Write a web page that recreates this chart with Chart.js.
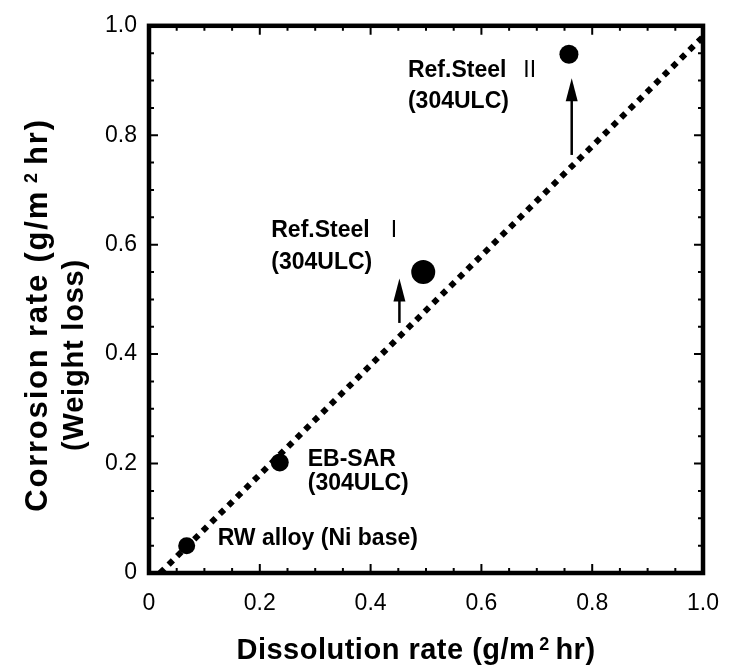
<!DOCTYPE html>
<html><head><meta charset="utf-8">
<script src="https://cdn.jsdelivr.net/npm/chart.js@4.4.1/dist/chart.umd.min.js"></script>
<style>html,body{margin:0;padding:0;background:#fff}#wrap{width:736px;height:672px}</style>
</head><body><div id="wrap"><canvas id="c" width="736" height="672"></canvas></div>
<script>
// ---- data ----
const sampleNames = ['RW alloy (Ni base)', 'EB-SAR', 'Ref.Steel', 'Ref.Steel'];
const sampleNumerals = ['', '', 'I', 'II'];
const sampleSubtitles = ['', '(304ULC)', '(304ULC)', '(304ULC)'];
const dissolutionRate = [0.068, 0.236, 0.495, 0.758];
const corrosionRate = [0.050, 0.202, 0.550, 0.948];
const arrowX = [0.452, 0.763];
const arrowFrom = [0.457, 0.764];
const arrowTo = [0.538, 0.904];
const trendX = [0.02, 1.0];
const trendY = [0.0, 0.98];
const tickValues = [0, 0.2, 0.4, 0.6, 0.8, 1.0];
const tickLabels = ['0', '0.2', '0.4', '0.6', '0.8', '1.0'];

const FONT = "'Liberation Sans', Arial, Helvetica, sans-serif";

// label placement relative to each marker (pixels)
const labelStyle = [
  {dx: 31, dy1: -9, dy2: 0, numGap: 0},
  {dx: 28, dy1: -5, dy2: 19, numGap: 0},
  {dx: -152, dy1: -43, dy2: -11, numGap: 21},
  {dx: -161, dy1: 15, dy2: 46, numGap: 17}
];

function drawRich(ctx, segs, x, y, align) {
  let total = 0;
  segs.forEach(s => {
    ctx.font = s.font; ctx.letterSpacing = (s.ls || 0) + 'px';
    s.w = ctx.measureText(s.text).width; total += s.w + (s.gap || 0);
  });
  let cx = align === 'center' ? x - total / 2 : x;
  segs.forEach(s => {
    ctx.font = s.font; ctx.letterSpacing = (s.ls || 0) + 'px';
    cx += (s.gap || 0);
    ctx.fillText(s.text, cx, y + (s.dy || 0));
    cx += s.w;
  });
  ctx.letterSpacing = '0px';
  return total;
}

const framePlugin = {
  id: 'frame',
  afterDatasetsDraw(chart) {
    const ctx = chart.ctx, xs = chart.scales.x, ys = chart.scales.y;
    const a = chart.chartArea;
    ctx.save();
    // arrows
    ctx.strokeStyle = '#000'; ctx.fillStyle = '#000'; ctx.lineWidth = 2.5;
    arrowX.forEach((ax, i) => {
      const px = xs.getPixelForValue(ax);
      const y0 = ys.getPixelForValue(arrowFrom[i]);
      const y1 = ys.getPixelForValue(arrowTo[i]);
      ctx.beginPath(); ctx.moveTo(px, y0); ctx.lineTo(px, y1 + 18); ctx.stroke();
      ctx.beginPath(); ctx.moveTo(px, y1); ctx.lineTo(px - 6, y1 + 23); ctx.lineTo(px + 6, y1 + 23); ctx.closePath(); ctx.fill();
    });
    // labels
    ctx.textBaseline = 'alphabetic'; ctx.textAlign = 'left';
    sampleNames.forEach((nm, i) => {
      const px = xs.getPixelForValue(dissolutionRate[i]);
      const py = ys.getPixelForValue(corrosionRate[i]);
      const st = labelStyle[i];
      const segs = [{text: nm, font: 'bold 23px ' + FONT, ls: 0}];
      if (sampleNumerals[i]) segs.push({text: sampleNumerals[i], font: '23px ' + FONT, ls: 0, gap: st.numGap});
      drawRich(ctx, segs, px + st.dx, py + st.dy1 + 8.2, 'left');
      if (sampleSubtitles[i]) drawRich(ctx, [{text: sampleSubtitles[i], font: 'bold 23px ' + FONT, ls: 0}], px + st.dx, py + st.dy2 + 8.2, 'left');
    });
    // frame
    ctx.lineWidth = 4.5; ctx.strokeStyle = '#000';
    ctx.strokeRect(a.left, a.top, a.right - a.left, a.bottom - a.top);
    // inward ticks
    ctx.lineWidth = 2;
    for (let k = 0; k <= 20; k++) {
      const v = k * 0.05;
      const len = (k % 4 === 0) ? 9 : 5;
      const px = xs.getPixelForValue(v), py = ys.getPixelForValue(v);
      ctx.beginPath();
      ctx.moveTo(px, a.bottom); ctx.lineTo(px, a.bottom - len);
      ctx.moveTo(px, a.top); ctx.lineTo(px, a.top + len);
      ctx.moveTo(a.left, py); ctx.lineTo(a.left + len, py);
      ctx.moveTo(a.right, py); ctx.lineTo(a.right - len, py);
      ctx.stroke();
    }
    // axis titles
    ctx.fillStyle = '#000';
    drawRich(ctx, [
      {text: 'Dissolution rate (g/m', font: 'bold 29px ' + FONT, ls: 0.5},
      {text: '2', font: 'bold 18px ' + FONT, gap: 4, dy: -9},
      {text: 'hr)', font: 'bold 29px ' + FONT, ls: 0.5, gap: 6}
    ], 416, 659, 'center');
    ctx.save();
    ctx.translate(47, 315); ctx.rotate(-Math.PI / 2);
    drawRich(ctx, [
      {text: 'Corrosion rate (g/m', font: 'bold 31px ' + FONT, ls: 1.8},
      {text: '2', font: 'bold 18px ' + FONT, gap: 7, dy: -10},
      {text: 'hr)', font: 'bold 31px ' + FONT, ls: 1.8, gap: 8}
    ], 0, 0, 'center');
    ctx.restore();
    ctx.save();
    ctx.translate(83, 355); ctx.rotate(-Math.PI / 2);
    drawRich(ctx, [{text: '(Weight loss)', font: 'bold 29px ' + FONT, ls: 0.8}], 0, 0, 'center');
    ctx.restore();
    ctx.restore();
  }
};

const fmt = v => {
  const i = tickValues.findIndex(t => Math.abs(t - v) < 1e-6);
  return i >= 0 ? tickLabels[i] : '';
};

new Chart(document.getElementById('c'), {
  type: 'scatter',
  data: {
    datasets: [
      {
        type: 'line',
        data: trendX.map((x, i) => ({x, y: trendY[i]})),
        borderColor: '#000', borderWidth: 6, borderDash: [6, 6], borderCapStyle: 'butt',
        pointRadius: 0, fill: false, tension: 0
      },
      {
        data: dissolutionRate.map((x, i) => ({x, y: corrosionRate[i]})),
        backgroundColor: '#000', borderColor: '#000', borderWidth: 0,
        pointRadius: [8.5, 9, 12, 9.5], pointStyle: 'circle'
      }
    ]
  },
  options: {
    responsive: false, animation: false,
    layout: {padding: {top: 13, right: 31, left: 0, bottom: 0}},
    plugins: {legend: {display: false}, tooltip: {enabled: false}},
    scales: {
      x: {
        type: 'linear', min: 0, max: 1,
        afterFit: s => { s.height = 99; },
        afterBuildTicks: s => { s.ticks = tickValues.map(v => ({value: v})); },
        grid: {display: false, drawTicks: false}, border: {display: false},
        ticks: {callback: fmt, color: '#000', font: {family: FONT, size: 23}, padding: 17, maxRotation: 0}
      },
      y: {
        type: 'linear', min: 0, max: 1,
        afterFit: s => { s.width = 149; },
        afterBuildTicks: s => { s.ticks = tickValues.map(v => ({value: v})); },
        grid: {display: false, drawTicks: false}, border: {display: false},
        ticks: {callback: fmt, color: '#000', font: {family: FONT, size: 23}, padding: 12}
      }
    }
  },
  plugins: [framePlugin]
});
</script></body></html>
